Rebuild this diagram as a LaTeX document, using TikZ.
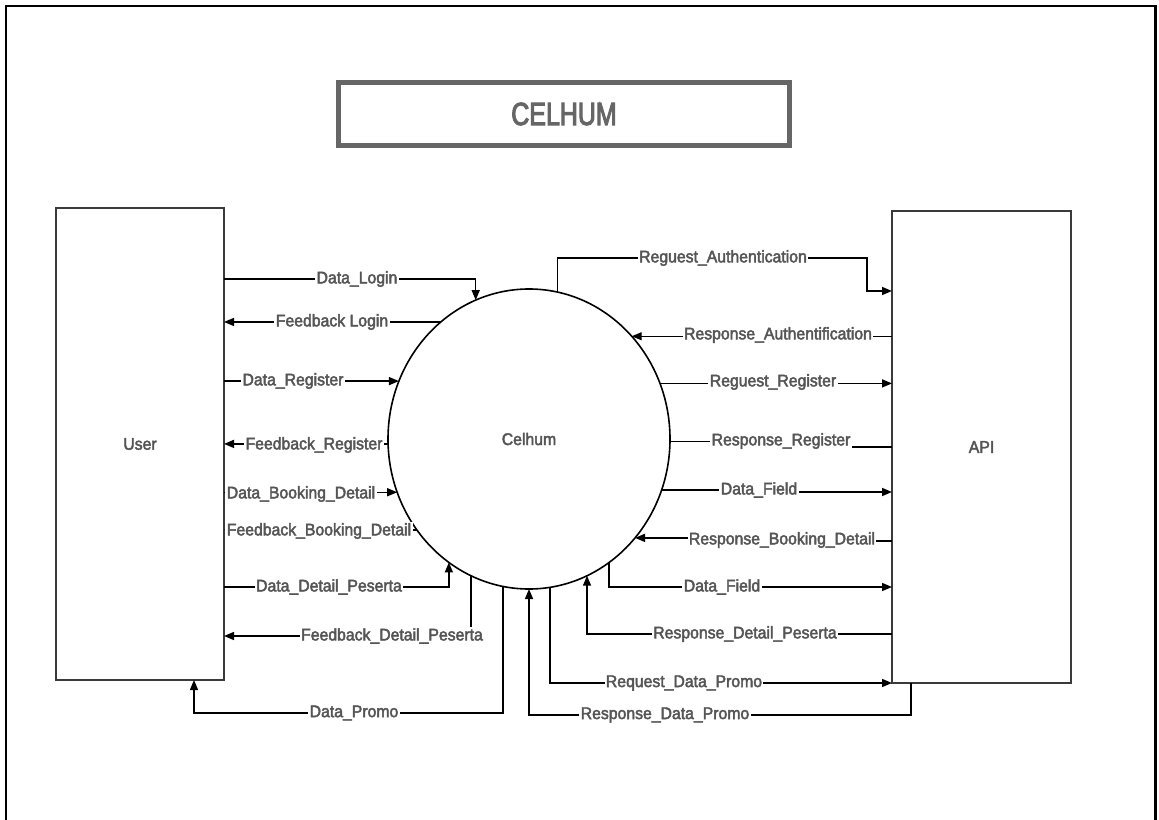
\documentclass[tikz,border=0pt]{standalone}
\usepackage{fontspec}
\setmainfont{Liberation Sans}[FakeStretch=0.94,FakeBold=2.6]
\newfontfamily\titlefont{Liberation Sans}[FakeStretch=0.78,FakeBold=3.2]
\usetikzlibrary{arrows.meta,shapes.geometric}

\definecolor{labelgray}{HTML}{555555}
\definecolor{boxgray}{HTML}{3A3A3A}
\definecolor{titlegray}{HTML}{666666}

\newcommand{\lblfont}{\fontsize{12.6}{14}\selectfont}

\begin{document}
\begin{tikzpicture}[x=0.75pt,y=-0.75pt,
  conn/.style={draw=black,line width=1.1pt},
  flow/.style={conn,-{Triangle[length=7.5pt,width=6pt]}},
  lbl/.style={fill=white,inner sep=1pt,text=labelgray,font=\lblfont},
  entity/.style={draw=boxgray,line width=1.5pt,inner sep=0pt,outer sep=0pt,
    minimum height=354pt,text=labelgray,font=\lblfont},
  process/.style={ellipse,draw=black,line width=1.2pt,inner sep=0pt,outer sep=0pt,
    minimum width=211.5pt,minimum height=225pt,text=labelgray,font=\lblfont},
  titlebox/.style={draw=titlegray,line width=3.4pt,inner sep=0pt,
    minimum width=338.6pt,minimum height=47.6pt,text=titlegray,
    font=\titlefont\fontsize{24}{28}\selectfont}
]
\useasboundingbox (0,0) rectangle (1159,820);

% page frame, open at the bottom
\draw[line width=1.9pt] (6,830) -- (6,6) -- (1155.5,6) -- (1155.5,830);

% title
\node[titlebox] (title) at (564,114) {CELHUM};

% external entities and the process
\node[entity,minimum width=126pt] (user) at (140,444) {User};
\node[entity,minimum width=134.25pt] (api) at (981.5,447) {API};
\node[process] (c) at (529,439) {Celhum};

\coordinate (promoL) at (194,713);

% flows between User and Celhum
\draw[flow] (user.east |- 0,279) -| (c.111.5);
\draw[flow] (c.127) -- (c.127 -| user.east);
\draw[flow] (c.156 -| user.east) -- (c.156);
\draw[flow] (c.182.4) -- (c.182.4 -| user.east);
\draw[flow] (c.202.75 -| user.east) -- (c.202.75);
\draw[flow] (c.219.55) -- (c.219.55 -| user.east);
\draw[flow] (user.east |- 0,587) -| (c.237.5);
\draw[flow] (c.247.9) |- (user.east |- 0,636);
\draw[flow] (c.260) |- (promoL) -- (promoL |- user.south);

% flows between Celhum and API
\draw[flow] (c.79.2) |- (867,258) |- (api.west |- 0,291);
\draw[flow] (c.45.66 -| api.west) -- (c.45.66);
\draw[flow] (c.23.6) -- (c.23.6 -| api.west);
\draw[conn] (api.west |- 0,447) -- (800,447) |- (c.359.6);
\draw[flow] (c.339.4) -- (c.339.4 -| 760,0) |- (api.west |- 0,492);
\draw[flow] (api.west |- 0,541) -- (780,541) |- (c.317.43);
\draw[flow] (c.303.4) |- (api.west |- 0,587);
\draw[flow] (api.west |- 0,634) -| (c.293.9);
\draw[flow] (c.278.44) |- (api.south west);
\draw[flow] (911,0 |- api.south) |- (c.south |- 0,715) -- (c.south);

% flow labels
\node[lbl] (l1) at (357,279) {Data\_Login};
\node[lbl] (l2) at (332,322) {Feedback Login};
\node[lbl] (l3) at (293,381) {Data\_Register};
\node[lbl] (l4) at (314,445) {Feedback\_Register};
\node[lbl] (l5) at (301,494) {Data\_Booking\_Detail};
\node[lbl] (l6) at (319,531) {Feedback\_Booking\_Detail};
\node[lbl] (l7) at (329,587) {Data\_Detail\_Peserta};
\node[lbl] (l8) at (392,636) {Feedback\_Detail\_Peserta};
\node[lbl] (l9) at (354,713) {Data\_Promo};

\node[lbl] (r1) at (723,258) {Reguest\_Authentication};
\node[lbl] (r2) at (778,335) {Response\_Authentification};
\node[lbl] (r3) at (773,382) {Reguest\_Register};
\node[lbl] (r4) at (781,441) {Response\_Register};
\node[lbl] (r5) at (759,490) {Data\_Field};
\node[lbl] (r6) at (782,540) {Response\_Booking\_Detail};
\node[lbl] (r7) at (722,587) {Data\_Field};
\node[lbl] (r8) at (745,634) {Response\_Detail\_Peserta};
\node[lbl] (r9) at (684,683) {Request\_Data\_Promo};
\node[lbl] (r10) at (665,715) {Response\_Data\_Promo};
\end{tikzpicture}
\end{document}
